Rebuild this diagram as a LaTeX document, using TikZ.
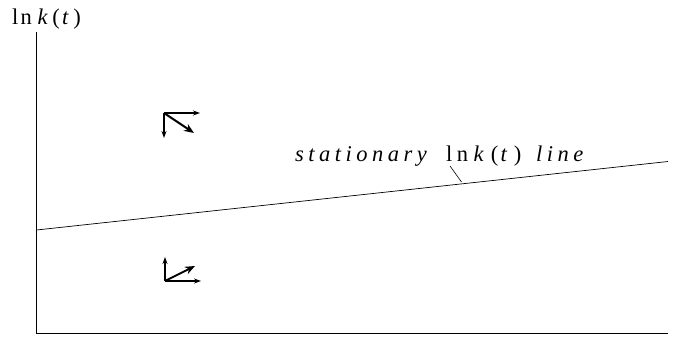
\documentclass[tikz,border=0pt]{standalone}
\usepackage{fontspec}
\setmainfont{Liberation Serif}
\usetikzlibrary{arrows.meta}
\newcommand{\lnkt}{ln\hspace{0.25em}\textit{k}\hspace{0.1em}(\hspace{0.1em}\textit{t}\hspace{0.1em})}
\begin{document}
\begin{tikzpicture}[x=1pt,y=-1pt,
  axis/.style={line width=0.8pt},
  icon/.style={line width=1.8pt,-{Stealth[length=7pt,width=5pt]}},
  bigicon/.style={line width=2pt,-{Stealth[length=10pt,width=8pt]}},
  lbl/.style={inner sep=0pt,font=\fontsize{22.5}{24}\selectfont}]
\useasboundingbox (0,0) rectangle (674,339);
\coordinate (O) at (36.5,333);
\coordinate (Ytop) at (36.5,32);
\coordinate (Xend) at (668,333);
\draw[axis] (Ytop) -- (O) -- (Xend);
\coordinate (S0) at (36.5,230);
\coordinate (S1) at (668,161.5);
\draw[line width=0.7pt] (S0) -- (S1);
\node[lbl,anchor=base west] (ylab) at (12,25) {\addfontfeatures{LetterSpace=10}\lnkt};
\node[lbl,anchor=base west] (slab) at (295,162) {\addfontfeatures{LetterSpace=20}\textit{stationary}\hspace{0.2em} \lnkt{}\hspace{0.2em} \textit{line}};
\coordinate (t0) at (450,166);
\coordinate (t1) at (461.5,182);
\draw[line width=0.6pt] (t0) -- (t1);
% upper icon
\coordinate (A) at (164,113);
\coordinate (Ax) at (200,113);
\coordinate (Ay) at (164,138);
\coordinate (Ad) at (194,133);
\draw[icon] (A) -- (Ax);
\draw[icon] (A) -- (Ay);
\draw[bigicon] (A) -- (Ad);
% lower icon
\coordinate (B) at (165,281);
\coordinate (Bx) at (201,281);
\coordinate (By) at (165,257);
\coordinate (Bd) at (195,266);
\draw[icon] (B) -- (Bx);
\draw[icon] (B) -- (By);
\draw[bigicon] (B) -- (Bd);
\end{tikzpicture}
\end{document}
